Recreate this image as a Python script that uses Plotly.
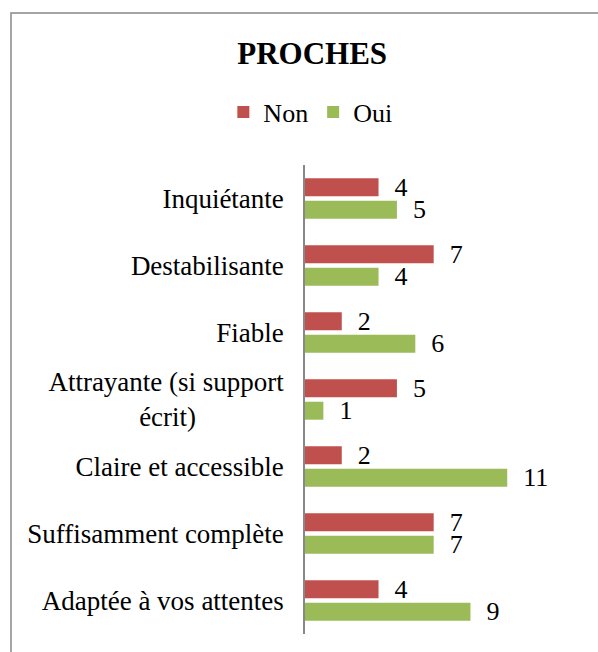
import plotly.graph_objects as go

categories = [
    "Inquiétante",
    "Destabilisante",
    "Fiable",
    "Attrayante (si support<br>écrit)",
    "Claire et accessible",
    "Suffisamment complète",
    "Adaptée à vos attentes",
]
non_values = [4, 7, 2, 5, 2, 7, 4]
oui_values = [5, 4, 6, 1, 11, 7, 9]
series_names = ["Non", "Oui"]
title_text = "PROCHES"

NBSP = "\u00a0"
# centre the second line of the wrapped label under the first one
tick_text = [c.replace("<br>écrit)", "<br>écrit)" + NBSP * 13) for c in categories]

FONT = "Liberation Serif"
RED = "#C0504D"
GREEN = "#9BBB59"
GRAY = "#888888"

W, H = 598, 652
L, R, T, B = 305, 54, 165, 18

fig = go.Figure()
for name, vals, col in [(series_names[0], non_values, RED), (series_names[1], oui_values, GREEN)]:
    fig.add_trace(go.Bar(
        name=name,
        x=vals,
        y=categories,
        orientation="h",
        marker=dict(color=col, line=dict(width=0)),
        text=[NBSP * 2 + str(v) for v in vals],
        textposition="outside",
        textfont=dict(family=FONT, size=26, color="black"),
        constraintext="none",
        cliponaxis=False,
        hoverinfo="skip",
    ))

pw = W - L - R
ph = H - T - B
# outer chart border (pixel positions converted to paper coords)
x0 = (11 - L) / pw
x1 = (W + 5 - L) / pw
y0 = (H - B - (H + 5)) / ph
y1 = (H - B - 13) / ph

fig.update_layout(
    width=W, height=H,
    margin=dict(l=L, r=R, t=T, b=B, autoexpand=False),
    paper_bgcolor="white", plot_bgcolor="white",
    barmode="group", bargap=0.33, bargroupgap=0.2,
    font=dict(family=FONT, size=26, color="black"),
    title=dict(text="<b>" + title_text + "</b>", font=dict(family=FONT, size=31, color="black"),
               xref="container", x=0.522, xanchor="center",
               yref="container", y=1 - 53 / H, yanchor="middle"),
    legend=dict(orientation="h", xref="container", yref="container",
                x=0.519, xanchor="center", y=1 - 112 / H, yanchor="middle",
                font=dict(family=FONT, size=26, color="black"),
                itemwidth=30, traceorder="normal", bgcolor="rgba(0,0,0,0)"),
    xaxis=dict(range=[0, 13], visible=False, showgrid=False, zeroline=False),
    yaxis=dict(autorange="reversed", type="category",
               tickvals=categories, ticktext=tick_text,
               showline=True, linecolor=GRAY, linewidth=1.5,
               ticks="", showgrid=False, ticklabelstandoff=14,
               tickfont=dict(family=FONT, size=27, color="black")),
    shapes=[dict(type="rect", xref="paper", yref="paper",
                 x0=x0, x1=x1, y0=y0, y1=y1,
                 line=dict(color=GRAY, width=1.5), fillcolor="rgba(0,0,0,0)", layer="below")],
)

fig.write_html("out.html", config={"displayModeBar": False},
               post_script="document.body.style.margin='0';")
